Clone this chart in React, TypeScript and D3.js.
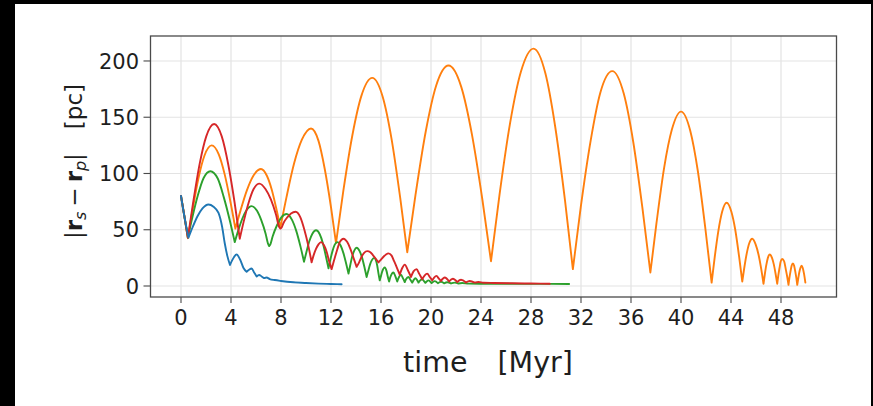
import React from 'react';
import * as d3 from 'd3';

const W = 873;
const H = 406;

const xTicks = [0, 4, 8, 12, 16, 20, 24, 28, 32, 36, 40, 44, 48];
const yTicks = [0, 50, 100, 150, 200];

type Pt = [number, number];

// separation |r_s - r_p| in pc against time in Myr
const blueTrack: Pt[] = [
  [0, 80], [0.3, 60], [0.6, 43],
  [0.92, 52], [1.32, 62], [1.72, 69], [2.2, 72.5], [2.6, 70.5], [3.0, 65], [3.3, 52], [3.5, 38], [3.7, 27], [3.92, 18.7],
  [4.1, 23], [4.45, 28], [4.75, 23], [5.0, 16], [5.25, 12.7],
  [5.45, 14.5], [5.65, 15.5], [5.85, 12], [6.05, 8.5],
  [6.25, 9.8], [6.45, 8.5], [6.65, 7], [6.85, 7.5], [7.1, 6.2], [7.5, 5.3], [8, 4.5], [9, 3.3], [10, 2.6], [11, 2.1], [12, 1.8], [12.85, 1.6],
];

const orangeTrack: Pt[] = [
  [0, 80], [0.3, 60], [0.55, 42.5],
  [0.93, 68], [1.4, 96], [1.88, 116], [2.45, 125], [3.02, 117], [3.5, 99], [3.97, 74], [4.35, 51],
  [4.76, 67], [5.27, 85], [5.79, 98], [6.4, 104], [6.87, 98], [7.25, 86], [7.64, 68], [7.95, 52],
  [8.44, 79], [9.05, 109], [9.67, 130], [10.4, 140], [11.0, 129], [11.5, 104], [12.0, 70], [12.4, 38],
  [12.98, 84], [13.71, 134], [14.43, 169], [15.3, 185], [16.14, 168], [16.84, 131], [17.54, 78], [18.1, 30],
  [18.76, 81], [19.59, 138], [20.41, 178], [21.4, 196], [22.42, 177], [23.27, 135], [24.12, 76], [24.8, 22],
  [25.48, 81], [26.33, 145], [27.18, 190], [28.2, 211], [29.15, 189], [29.93, 142], [30.72, 76], [31.35, 15],
  [31.98, 70], [32.77, 129], [33.55, 172], [34.5, 191], [35.42, 171], [36.18, 128], [36.94, 67], [37.55, 12],
  [38.04, 56], [38.65, 105], [39.27, 139], [40.0, 155], [40.74, 138], [41.35, 102], [41.96, 50], [42.45, 3],
  [42.69, 25], [42.99, 49], [43.29, 66], [43.65, 74], [44.03, 66], [44.34, 50], [44.65, 26], [44.9, 4],
  [45.06, 16], [45.26, 29], [45.46, 38], [45.7, 42], [45.97, 37], [46.2, 28], [46.42, 15], [46.6, 2],
  [46.7, 10], [46.83, 19], [46.95, 25], [47.1, 28], [47.28, 25], [47.43, 19], [47.58, 10], [47.7, 2],
  [47.78, 9], [47.88, 16], [47.98, 22], [48.1, 24], [48.25, 22], [48.38, 15], [48.5, 8], [48.6, 1],
  [48.67, 7], [48.76, 13], [48.85, 18], [48.95, 20], [49.05, 18], [49.14, 13], [49.23, 7], [49.3, 1],
  [49.37, 6], [49.46, 12], [49.55, 16], [49.65, 18], [49.74, 16], [49.84, 11], [49.95, 3],
];

const greenTrack: Pt[] = [
  [0, 80], [0.3, 60], [0.55, 43],
  [0.91, 61], [1.36, 81], [1.81, 96], [2.35, 102], [2.94, 95.5], [3.42, 79], [3.91, 58], [4.3, 39],
  [4.57, 49], [4.91, 60], [5.25, 67.5], [5.65, 71], [6.07, 67], [6.42, 58.5], [6.77, 46.5], [6.95, 38], [7.05, 35.5],
  [7.15, 37], [7.33, 44], [7.68, 54], [8.03, 61], [8.45, 64], [8.87, 59], [9.22, 49], [9.56, 35], [9.84, 21.6],
  [10.03, 30], [10.27, 40], [10.51, 46.5], [10.8, 49.5], [11.1, 46], [11.35, 38], [11.6, 26], [11.8, 15.7],
  [11.94, 23], [12.12, 31], [12.29, 36.5], [12.5, 39], [12.77, 36], [13.0, 29], [13.22, 19.5], [13.4, 11],
  [13.53, 18], [13.69, 26], [13.86, 31.5], [14.05, 34], [14.29, 31], [14.49, 25], [14.69, 16], [14.85, 8],
  [14.97, 13], [15.12, 19], [15.27, 23], [15.45, 25], [15.59, 23], [15.7, 18], [15.8, 11], [15.9, 5],
  [16.0, 9], [16.1, 13], [16.3, 16.5], [16.45, 13], [16.55, 8], [16.65, 4],
  [16.75, 8], [17.0, 12], [17.15, 8.5], [17.3, 4],
  [17.4, 7], [17.6, 10], [17.75, 7], [17.9, 3.5],
  [18.0, 6], [18.2, 8], [18.35, 5.5], [18.5, 3],
  [18.6, 5], [18.75, 7], [18.9, 5], [19.0, 3],
  [19.1, 4.5], [19.3, 6], [19.45, 4.2], [19.55, 2.8],
  [19.65, 4], [19.8, 5], [19.95, 3.8], [20.05, 2.6],
  [20.3, 4.3], [20.55, 2.5], [20.8, 3.8], [21.05, 2.4], [21.3, 3.3], [21.6, 2.3], [21.9, 3], [22.2, 2.2],
  [22.5, 2.6], [23, 2.1], [25, 2], [28, 1.9], [31.05, 1.8],
];

const redTrack: Pt[] = [
  [0, 80], [0.3, 60], [0.55, 43],
  [0.97, 74], [1.5, 109], [2.02, 133], [2.65, 144], [3.26, 133], [3.78, 108], [4.29, 74], [4.7, 42],
  [5.01, 57], [5.41, 74], [5.8, 86], [6.27, 91], [6.77, 86], [7.19, 77], [7.61, 63], [7.85, 52.5], [7.95, 51],
  [8.05, 52], [8.2, 56], [8.5, 61], [8.8, 64.5], [9.17, 66], [9.55, 61], [9.87, 50], [10.2, 35], [10.45, 21],
  [10.6, 27], [10.8, 33], [11.0, 37], [11.2, 39], [11.45, 36], [11.65, 30.5], [11.85, 22], [12.05, 15],
  [12.25, 23], [12.5, 32.5], [12.7, 39], [13.0, 42], [13.3, 39], [13.55, 33], [13.8, 25], [14.05, 17],
  [14.25, 21], [14.45, 26], [14.65, 29.5], [14.9, 31], [15.15, 30], [15.35, 27.5], [15.6, 24], [15.8, 21],
  [16.0, 23.5], [16.2, 26], [16.4, 28], [16.6, 29], [16.85, 27], [17.05, 22], [17.3, 15.5], [17.5, 10],
  [17.7, 16], [17.9, 19], [18.15, 14], [18.4, 8],
  [18.6, 13], [18.85, 15], [19.05, 11], [19.3, 6],
  [19.5, 9.5], [19.7, 11], [19.9, 8], [20.1, 5],
  [20.25, 7.5], [20.45, 9], [20.6, 7], [20.8, 4.5],
  [21.1, 7.5], [21.45, 4], [21.75, 6.5], [22.1, 3.5], [22.4, 5.5], [22.8, 3.2], [23.1, 4.5], [23.5, 3],
  [23.8, 3.6], [24.2, 2.9], [25, 2.7], [26.5, 2.4], [28, 2.2], [29.5, 2],
];

const series: { pts: Pt[]; color: string }[] = [
  { pts: orangeTrack, color: '#ff7f0e' },
  { pts: greenTrack, color: '#2ca02c' },
  { pts: redTrack, color: '#d62728' },
  { pts: blueTrack, color: '#1f77b4' },
];

const FONT = '"DejaVu Sans", sans-serif';
const INK = '#1e1e1e';

export default function App() {
  const plot = { left: 150.5, right: 836.5, top: 36, bottom: 297 };
  const x = d3.scaleLinear().domain([-2.44, 52.44]).range([plot.left, plot.right]);
  const y = d3.scaleLinear().domain([-9.78, 222.2]).range([plot.bottom, plot.top]);

  const line = d3
    .line<Pt>()
    .x((d) => x(d[0]))
    .y((d) => y(d[1]))
    .curve(d3.curveMonotoneX);

  // Each arc between two minima is drawn as its own smooth piece so the
  // distance curve keeps its sharp bounce at every close approach.
  const cuspPath = (pts: Pt[]) => {
    const pieces: Pt[][] = [];
    let start = 0;
    for (let i = 1; i < pts.length - 1; i++) {
      if (pts[i][1] < pts[i - 1][1] && pts[i][1] < pts[i + 1][1]) {
        pieces.push(pts.slice(start, i + 1));
        start = i;
      }
    }
    pieces.push(pts.slice(start));
    return pieces.map((p) => line(p) ?? '').join('');
  };

  return (
    <svg
      width={W}
      height={H}
      viewBox={`0 0 ${W} ${H}`}
      style={{ position: 'absolute', left: 0, top: 0, background: '#fff' }}
      fontFamily={FONT}
    >
      <rect x={0} y={0} width={W} height={H} fill="#fff" />
      {/* dark frame round the figure */}
      <rect x={0} y={0} width={15} height={H} fill="#000" />
      <rect x={0} y={0} width={W} height={4} fill="#000" />
      <rect x={871} y={0} width={2} height={H} fill="#000" />

      <defs>
        <clipPath id="plotArea">
          <rect x={plot.left} y={plot.top} width={plot.right - plot.left} height={plot.bottom - plot.top} />
        </clipPath>
      </defs>

      {/* grid */}
      <g stroke="#e3e3e3" strokeWidth={1.2}>
        {xTicks.map((t) => (
          <line key={`gx${t}`} x1={x(t)} x2={x(t)} y1={plot.top} y2={plot.bottom} />
        ))}
        {yTicks.map((t) => (
          <line key={`gy${t}`} x1={plot.left} x2={plot.right} y1={y(t)} y2={y(t)} />
        ))}
      </g>

      {/* curves */}
      <g clipPath="url(#plotArea)" fill="none" strokeWidth={1.9} strokeLinejoin="round" strokeLinecap="round">
        {series.map((s) => (
          <path key={s.color} d={cuspPath(s.pts)} stroke={s.color} />
        ))}
      </g>

      {/* frame */}
      <rect
        x={plot.left}
        y={plot.top}
        width={plot.right - plot.left}
        height={plot.bottom - plot.top}
        fill="none"
        stroke="#4a4a4a"
        strokeWidth={1.3}
      />

      {/* x axis ticks and labels */}
      <g>
        {xTicks.map((t) => (
          <g key={`xt${t}`}>
            <line x1={x(t)} x2={x(t)} y1={plot.bottom} y2={plot.bottom + 6} stroke="#4a4a4a" strokeWidth={1.1} />
            <text x={x(t)} y={324.5} textAnchor="middle" fontSize={21} fill={INK}>
              {t}
            </text>
          </g>
        ))}
      </g>

      {/* y axis ticks and labels */}
      <g>
        {yTicks.map((t) => (
          <g key={`yt${t}`}>
            <line x1={plot.left - 7} x2={plot.left} y1={y(t)} y2={y(t)} stroke="#4a4a4a" strokeWidth={1.1} />
            <text x={139} y={y(t)} dy="0.36em" textAnchor="end" fontSize={21} fill={INK}>
              {t}
            </text>
          </g>
        ))}
      </g>

      {/* axis titles */}
      <text x={488} y={371.5} textAnchor="middle" fontSize={28.5} fill={INK}>
        <tspan>time</tspan>
        <tspan dx={30}>[Myr]</tspan>
      </text>

      <text transform="translate(82,161.5) rotate(-90)" textAnchor="middle" fontSize={23} fill={INK}>
        <tspan>|</tspan>
        <tspan fontWeight="bold">r</tspan>
        <tspan fontStyle="italic" fontSize={16} dy={4}>s</tspan>
        <tspan dy={-4} dx={5}>−</tspan>
        <tspan fontWeight="bold" dx={5}>r</tspan>
        <tspan fontStyle="italic" fontSize={16} dy={4}>p</tspan>
        <tspan dy={-4}>|</tspan>
        <tspan dx={24}>[pc]</tspan>
      </text>
    </svg>
  );
}
